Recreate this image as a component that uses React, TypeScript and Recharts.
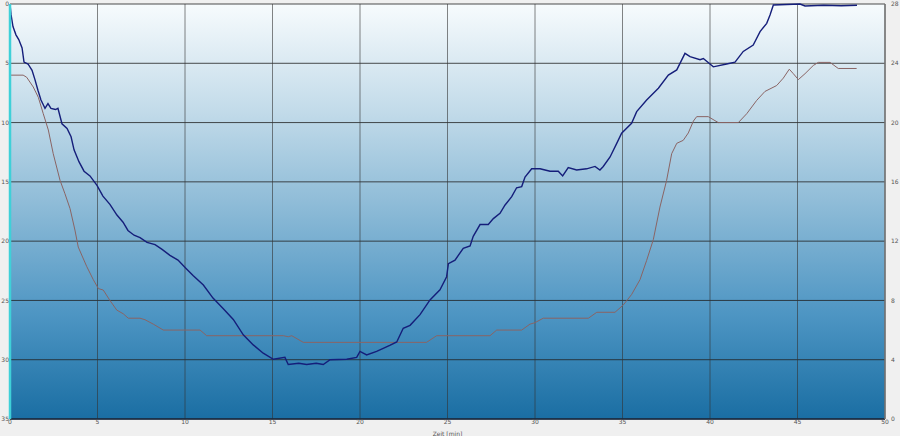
import React from "react";
import { LineChart, Line, XAxis, YAxis, CartesianGrid } from "recharts";

// Tauchprofil: Zeit [min] -> Tiefe [m]
const depthTime = [
  0, 0.06, 0.17, 0.34, 0.5, 0.69, 0.8, 1.03, 1.26, 1.43, 1.6, 1.77, 2.0, 2.17, 2.34, 2.6, 2.74, 2.97,
  3.26, 3.49, 3.66, 3.94, 4.23, 4.57, 4.97, 5.31, 5.71, 6.11, 6.46, 6.74, 7.09, 7.43, 7.83, 8.29, 8.69,
  9.14, 9.6, 10.06, 10.46, 11.05, 11.6, 12.19, 12.76, 13.33, 13.9, 14.47, 15.05, 15.71, 15.9, 16.5,
  16.95, 17.5, 17.9, 18.29, 19.24, 19.81, 20.0, 20.38, 20.95, 21.7, 22.1, 22.47, 22.86, 23.43, 24.0,
  24.57, 24.95, 25.05, 25.43, 25.9, 26.29, 26.47, 26.86, 27.33, 27.62, 28.0, 28.29, 28.67, 28.95, 29.24,
  29.43, 29.81, 30.29, 30.86, 31.33, 31.58, 31.9, 32.38, 32.95, 33.43, 33.71, 33.9, 34.29, 34.67, 34.95,
  35.52, 35.81, 36.38, 37.05, 37.62, 38.1, 38.57, 38.86, 39.43, 39.62, 40.19, 40.95, 41.43, 41.9, 42.47,
  42.86, 43.24, 43.43, 43.62, 45.14, 45.43, 46.5, 47.5, 48.4,
];
const depthValues = [
  0, 0.9, 1.9, 2.6, 3.0, 3.7, 4.9, 5.06, 5.6, 6.4, 7.3, 8.1, 8.8, 8.4, 8.8, 8.9, 8.8, 10.1,
  10.5, 11.2, 12.3, 13.3, 14.1, 14.5, 15.3, 16.2, 16.9, 17.8, 18.4, 19.1, 19.5, 19.7, 20.1, 20.3, 20.7,
  21.2, 21.6, 22.3, 22.9, 23.7, 24.8, 25.7, 26.6, 27.9, 28.75, 29.45, 29.96, 29.8, 30.4, 30.3,
  30.4, 30.3, 30.4, 30.0, 29.96, 29.8, 29.3, 29.6, 29.3, 28.8, 28.5, 27.35, 27.1, 26.2, 24.96,
  24.1, 23.0, 21.9, 21.6, 20.6, 20.4, 19.6, 18.6, 18.6, 18.1, 17.65, 16.95, 16.25, 15.5, 15.4,
  14.6, 13.9, 13.9, 14.1, 14.1, 14.5, 13.8, 14.0, 13.9, 13.7, 14.0, 13.7, 12.9, 11.75, 10.9,
  10.06, 9.08, 8.1, 7.1, 6.0, 5.56, 4.16, 4.44, 4.7, 4.6, 5.3, 5.06, 4.9, 4.0, 3.46,
  2.33, 1.63, 0.93, 0.08, 0.0, 0.17, 0.1, 0.15, 0.1,
];

// Wassertemperatur [°C]
const tempTime = [
  0, 0.75, 0.95, 1.33, 1.62, 1.9, 2.19, 2.47, 2.86, 3.14, 3.43, 3.71, 3.9, 4.38, 4.76, 5.05, 5.33,
  5.71, 6.1, 6.47, 6.76, 7.43, 7.71, 8.19, 8.76, 10.86, 11.24, 15.62, 15.9, 16.1, 16.76, 23.8, 24.38,
  27.43, 27.81, 29.24, 29.71, 30.0, 30.47, 33.05, 33.53, 34.57, 35.05, 35.52, 36.0, 36.38, 36.76,
  37.14, 37.52, 37.81, 38.1, 38.47, 38.76, 39.05, 39.24, 39.9, 40.47, 41.62, 42.1, 42.67, 43.14,
  43.81, 44.19, 44.53, 44.76, 45.05, 45.43, 45.9, 46.19, 46.86, 47.33, 48.38,
];
const tempValues = [
  23.2, 23.2, 23.06, 22.4, 21.7, 20.6, 19.5, 17.9, 16.1, 15.2, 14.2, 12.75, 11.6, 10.3, 9.4, 8.8, 8.7,
  8.0, 7.35, 7.1, 6.8, 6.8, 6.7, 6.4, 6.0, 6.0, 5.62, 5.62, 5.55, 5.62, 5.17, 5.17, 5.62,
  5.62, 6.0, 6.0, 6.4, 6.5, 6.8, 6.8, 7.2, 7.2, 7.7, 8.4, 9.4, 10.7, 12.1,
  14.3, 16.1, 17.9, 18.6, 18.8, 19.3, 20.1, 20.4, 20.4, 20.0, 20.0, 20.6, 21.5, 22.1,
  22.5, 23.0, 23.6, 23.3, 22.9, 23.3, 23.85, 24.06, 24.06, 23.65, 23.65,
];

const xTicks = [0, 5, 10, 15, 20, 25, 30, 35, 40, 45, 50];
const depthTicks = [0, 5, 10, 15, 20, 25, 30, 35];
const tempTicks = [0, 4, 8, 12, 16, 20, 24, 28];

const depthData = depthTime.map((t, i) => ({ t, depth: depthValues[i] }));
const tempData = tempTime.map((t, i) => ({ t, temp: tempValues[i] }));

const font = "'DejaVu Sans', sans-serif";
const tickStyle = { fontSize: 6, fill: "#555", fontFamily: font };

export default function App() {
  return (
    <div style={{ position: "absolute", left: 0, top: 0, width: 900, height: 436, background: "#f0f0f0" }}>
      <LineChart width={900} height={436} margin={{ top: 4, right: 0, left: 0, bottom: 0 }}>
        <defs>
          <linearGradient id="water" x1="0" y1="0" x2="0" y2="1">
            <stop offset="0%" stopColor="#f7fbfd" />
            <stop offset="25%" stopColor="#c4dcea" />
            <stop offset="50%" stopColor="#8ab9d6" />
            <stop offset="75%" stopColor="#4d95c3" />
            <stop offset="100%" stopColor="#1a6ea3" />
          </linearGradient>
        </defs>
        <CartesianGrid
          yAxisId="depth"
          vertical={false}
          fill="url(#water)"
          fillOpacity={1}
          stroke="#222"
          strokeOpacity={0.8}
        />
        <CartesianGrid yAxisId="depth" horizontal={false} stroke="#333" strokeOpacity={0.6} />
        <XAxis
          dataKey="t"
          type="number"
          domain={[0, 50]}
          ticks={xTicks}
          allowDuplicatedCategory={false}
          height={17}
          tickLine={false}
          tickSize={0}
          tickMargin={1}
          tick={tickStyle}
          axisLine={{ stroke: "#1a2a40", strokeWidth: 1.5 }}
          label={{ value: "Zeit [min]", position: "insideBottom", offset: 0, fontSize: 6, fill: "#555", fontFamily: font }}
        />
        <YAxis
          yAxisId="depth"
          orientation="left"
          reversed
          domain={[0, 35]}
          ticks={depthTicks}
          width={10}
          tickLine={false}
          tickSize={0}
          tickMargin={1}
          tick={tickStyle}
          axisLine={{ stroke: "#3fd0d8", strokeWidth: 2.5 }}
        />
        <YAxis
          yAxisId="temp"
          orientation="right"
          domain={[0, 28]}
          ticks={tempTicks}
          width={15}
          tickLine={false}
          tickSize={0}
          tickMargin={6}
          tick={tickStyle}
          axisLine={{ stroke: "#777", strokeWidth: 1.5 }}
        />
        <Line
          yAxisId="temp"
          data={tempData}
          dataKey="temp"
          stroke="#8a6464"
          strokeWidth={1}
          dot={false}
          isAnimationActive={false}
        />
        <Line
          yAxisId="depth"
          data={depthData}
          dataKey="depth"
          stroke="#151e7a"
          strokeWidth={1.4}
          dot={false}
          isAnimationActive={false}
        />
      </LineChart>
    </div>
  );
}
